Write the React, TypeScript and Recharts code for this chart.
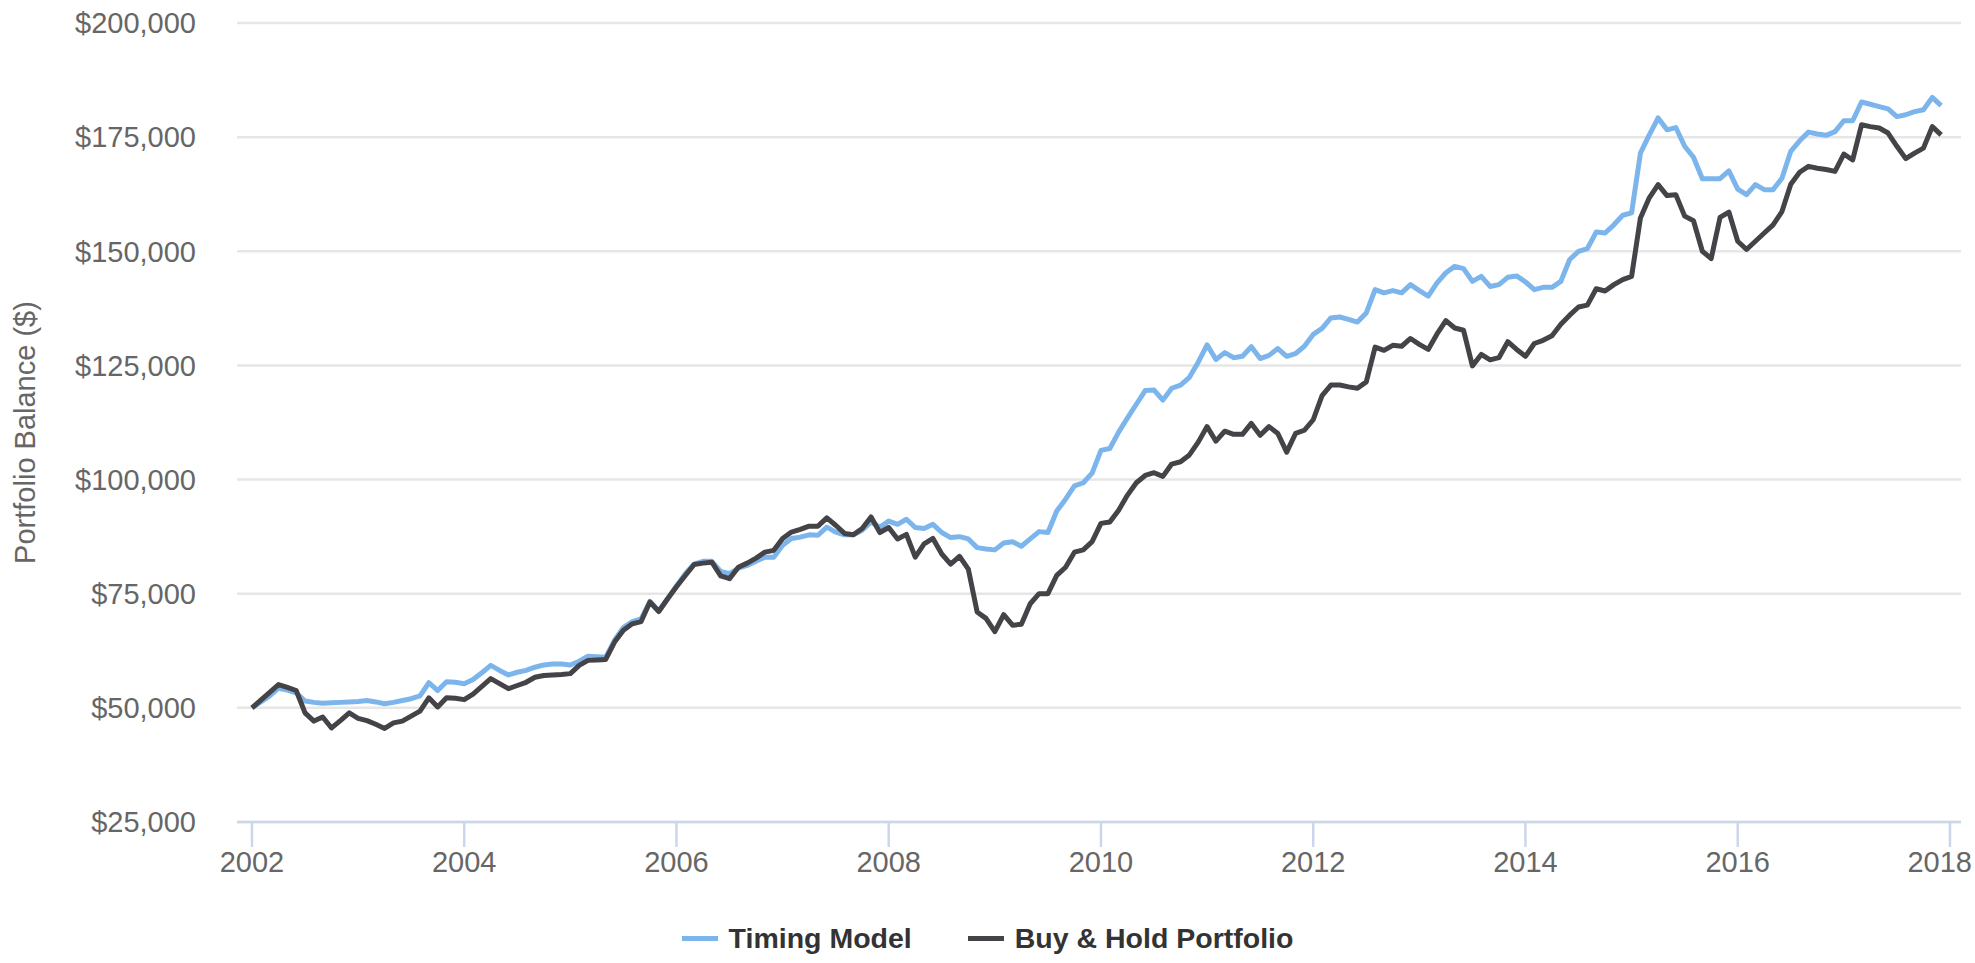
import React from 'react';
import { LineChart, Line, XAxis, YAxis, CartesianGrid, Legend, Label } from 'recharts';

const FONT = '"Liberation Sans", Arial, Helvetica, sans-serif';

// Monthly portfolio balances, Jan 2002 .. Dec 2017
const timingModel = [
  50000, 51300, 52600, 54300, 53900, 53300, 51500, 51200, 51000, 51100, 51200, 51300,
  51400, 51600, 51300, 50900, 51200, 51600, 52000, 52600, 55500, 53800, 55700, 55600,
  55300, 56200, 57700, 59300, 58200, 57200, 57800, 58200, 58900, 59400, 59600, 59600,
  59400, 60200, 61300, 61200, 61100, 64800, 67600, 68900, 69500, 73300, 71200, 73900,
  76700, 79400, 81500, 82100, 82100, 79900, 79400, 80600, 81200, 82100, 83000, 83000,
  85600, 87100, 87400, 87900, 87800, 89600, 88500, 87900, 87900, 88900, 90700, 89600,
  90900, 90200, 91300, 89500, 89300, 90200, 88400, 87300, 87500, 87000, 85100, 84800,
  84600, 86100, 86400, 85400, 87000, 88600, 88400, 93100, 95700, 98600, 99300, 101400,
  106400, 106800, 110400, 113500, 116500, 119500, 119600, 117400, 120000, 120700, 122400, 125700,
  129500, 126300, 127800, 126700, 127000, 129100, 126500, 127200, 128700, 127000, 127600, 129200,
  131800, 133100, 135400, 135600, 135100, 134500, 136500, 141600, 140900, 141400, 140900, 142700,
  141400, 140200, 143100, 145300, 146700, 146200, 143400, 144500, 142300, 142700, 144300, 144600,
  143300, 141600, 142100, 142100, 143400, 148200, 150000, 150600, 154200, 154000, 155800, 157900,
  158400, 171500, 175500, 179200, 176600, 177100, 173000, 170600, 165900, 165900, 165900, 167600,
  163600, 162400, 164600, 163500, 163500, 166000, 171900, 174200, 176100, 175700, 175400, 176200,
  178600, 178600, 182700, 182200, 181700, 181200, 179500, 179900, 180600, 181000, 183700, 181900,
];

const buyAndHold = [
  50000, 51700, 53400, 55100, 54500, 53800, 48900, 47100, 48000, 45600, 47200, 48900,
  47700, 47200, 46400, 45500, 46700, 47100, 48200, 49300, 52200, 50200, 52200, 52100,
  51800, 53000, 54700, 56400, 55300, 54200, 54900, 55600, 56700, 57100, 57200, 57300,
  57500, 59300, 60400, 60500, 60600, 64400, 67000, 68400, 68900, 73200, 71100, 73900,
  76500, 79000, 81400, 81700, 81900, 78900, 78300, 80800, 81700, 82800, 84100, 84500,
  87100, 88500, 89100, 89800, 89800, 91600, 90000, 88200, 87900, 89300, 91800, 88400,
  89500, 87000, 88000, 83000, 85900, 87100, 83700, 81500, 83200, 80400, 71000, 69600,
  66700, 70400, 68100, 68300, 72800, 75000, 75000, 79000, 80800, 84100, 84600, 86400,
  90400, 90700, 93300, 96600, 99300, 100900, 101500, 100700, 103400, 103900, 105400, 108200,
  111600, 108400, 110600, 109900, 109900, 112300, 109700, 111600, 110100, 106000, 110100, 110800,
  113100, 118400, 120700, 120700, 120300, 120000, 121400, 129000, 128300, 129400, 129200, 130900,
  129600, 128500, 131900, 134800, 133200, 132700, 124900, 127400, 126200, 126700, 130200, 128500,
  127000, 129800, 130500, 131500, 134000, 136000, 137800, 138200, 141800, 141300, 142700, 143800,
  144500, 157300, 161700, 164600, 162200, 162400, 157700, 156700, 150000, 148400, 157400, 158600,
  152200, 150400, 152200, 154000, 155800, 158700, 164700, 167300, 168600, 168200, 167900, 167500,
  171300, 170000, 177700, 177300, 177000, 175900, 173000, 170300, 171500, 172600, 177300, 175500,
];

const START_YEAR = 2002;
const months = timingModel.map((_, i) => START_YEAR + i / 12);

const yearTicks = [2002, 2004, 2006, 2008, 2010, 2012, 2014, 2016, 2018];
const balanceTicks = [25000, 50000, 75000, 100000, 125000, 150000, 175000, 200000];

const seriesNames = ['Timing Model', 'Buy & Hold Portfolio'];
const seriesColors = ['#7cb5ec', '#434348'];

const data = months.map((t, i) => ({
  t,
  timing: timingModel[i],
  hold: buyAndHold[i],
}));

const CHART_W = 1975;
const TICK_FONT = 29;

const fmtMoney = (v: number) => '$' + v.toLocaleString('en-US');

const YearTick = (props: any) => {
  const { x, y, payload } = props;
  const label = String(payload.value);
  const approxW = label.length * TICK_FONT * 0.556;
  const rightLimit = CHART_W - 3;
  let tx = x;
  let anchor: 'middle' | 'end' = 'middle';
  if (x + approxW / 2 > rightLimit) {
    tx = rightLimit;
    anchor = 'end';
  }
  return (
    <text
      x={tx}
      y={y}
      dy="0.71em"
      textAnchor={anchor}
      fill="#666666"
      fontSize={TICK_FONT}
      fontFamily={FONT}
    >
      {label}
    </text>
  );
};

const YTitle = (props: any) => {
  const vb = props.viewBox || { x: 0, y: 23, width: 237, height: 799 };
  const cy = vb.y + vb.height / 2 + 10;
  const x = 35;
  return (
    <text
      x={x}
      y={cy}
      transform={`rotate(-90, ${x}, ${cy})`}
      textAnchor="middle"
      fill="#666666"
      fontSize={TICK_FONT}
      fontFamily={FONT}
    >
      Portfolio Balance ($)
    </text>
  );
};

const renderLegend = () => (
  <div
    style={{
      display: 'flex',
      justifyContent: 'center',
      alignItems: 'center',
      height: 50,
      width: '100%',
    }}
  >
    {seriesNames.map((name, idx) => (
      <div
        key={name}
        style={{ display: 'flex', alignItems: 'center', marginLeft: idx ? 56 : 0 }}
      >
        <span
          style={{
            display: 'inline-block',
            width: 36,
            height: 5,
            background: seriesColors[idx],
            marginRight: 11,
          }}
        />
        <span
          style={{
            fontFamily: FONT,
            fontSize: 28.5,
            fontWeight: 'bold',
            color: '#333333',
          }}
        >
          {name}
        </span>
      </div>
    ))}
  </div>
);

export default function App() {
  return (
    <div
      style={{
        position: 'absolute',
        left: 0,
        top: 0,
        width: CHART_W,
        height: 963,
        background: '#ffffff',
        fontFamily: FONT,
      }}
    >
      <LineChart
        width={CHART_W}
        height={963}
        data={data}
        margin={{ top: 23, right: 14, bottom: 0, left: 0 }}
      >
        <CartesianGrid
          horizontal={true}
          vertical={false}
          stroke="#e6e6e6"
          strokeWidth={2.5}
        />
        <XAxis
          dataKey="t"
          type="number"
          domain={[2001.859, 2018.104]}
          ticks={yearTicks}
          interval={0}
          allowDataOverflow={true}
          height={91}
          tickSize={25}
          tickMargin={4}
          axisLine={{ stroke: '#ccd6eb', strokeWidth: 2.5 }}
          tickLine={{ stroke: '#ccd6eb', strokeWidth: 2.5 }}
          tick={<YearTick />}
        />
        <YAxis
          type="number"
          domain={[25000, 200000]}
          ticks={balanceTicks}
          interval={0}
          width={237}
          axisLine={false}
          tickLine={false}
          tickSize={0}
          tickMargin={41}
          tickFormatter={fmtMoney}
          tick={{ fill: '#666666', fontSize: TICK_FONT, fontFamily: FONT }}
        >
          <Label content={YTitle} />
        </YAxis>
        <Legend
          verticalAlign="bottom"
          align="center"
          height={50}
          content={renderLegend}
          wrapperStyle={{ left: 0, width: CHART_W, bottom: 0 }}
        />
        <Line
          type="linear"
          dataKey="timing"
          name={seriesNames[0]}
          stroke={seriesColors[0]}
          strokeWidth={5}
          dot={false}
          activeDot={false}
          strokeLinejoin="round"
          isAnimationActive={false}
        />
        <Line
          type="linear"
          dataKey="hold"
          name={seriesNames[1]}
          stroke={seriesColors[1]}
          strokeWidth={5}
          dot={false}
          activeDot={false}
          strokeLinejoin="round"
          isAnimationActive={false}
        />
      </LineChart>
    </div>
  );
}
